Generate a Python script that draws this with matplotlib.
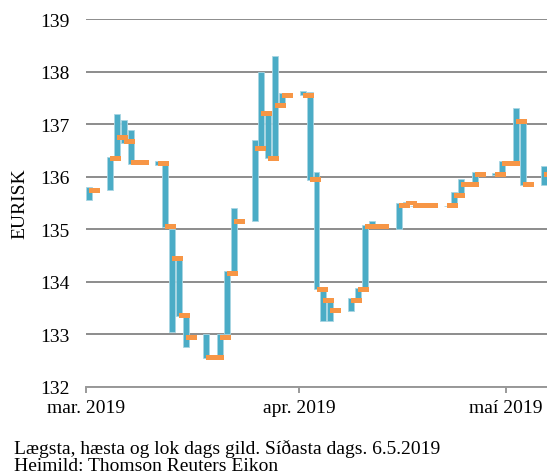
import matplotlib
matplotlib.use("Agg")
import matplotlib.pyplot as plt
import matplotlib.dates as mdates
import numpy as np
from datetime import datetime

dates = ["2019-03-01", "2019-03-04", "2019-03-05", "2019-03-06", "2019-03-07", "2019-03-08",
         "2019-03-11", "2019-03-12", "2019-03-13", "2019-03-14", "2019-03-15",
         "2019-03-18", "2019-03-19", "2019-03-20", "2019-03-21", "2019-03-22",
         "2019-03-25", "2019-03-26", "2019-03-27", "2019-03-28", "2019-03-29",
         "2019-04-01", "2019-04-02", "2019-04-03", "2019-04-04", "2019-04-05",
         "2019-04-08", "2019-04-09", "2019-04-10", "2019-04-11", "2019-04-12",
         "2019-04-15", "2019-04-16", "2019-04-17", "2019-04-18", "2019-04-19",
         "2019-04-22", "2019-04-23", "2019-04-24", "2019-04-25", "2019-04-26",
         "2019-04-29", "2019-04-30", "2019-05-01", "2019-05-02", "2019-05-03",
         "2019-05-06"]

low = [135.55, 135.75, 136.40, 136.65, 136.25, 136.27,
       136.22, 135.05, 133.05, 133.35, 132.76,
       132.56, 132.56, 132.56, 133.00, 134.15,
       135.15, 136.54, 136.35, 136.35, 137.35,
       137.55, 135.94, 133.86, 133.26, 133.26,
       133.45, 133.64, 133.86, 135.05, 135.05,
       135.00, 135.47, 135.45, 135.45, 135.45,
       135.45, 135.45, 135.64, 135.85, 135.85,
       136.03, 136.04, 136.25, 136.25, 135.85,
       135.85]

high = [135.80, 136.37, 137.20, 137.08, 136.89, 136.27,
        136.29, 136.23, 135.00, 134.49, 133.33,
        133.00, 132.56, 133.00, 134.20, 135.40,
        136.70, 138.00, 137.19, 138.29, 137.59,
        137.63, 137.62, 136.09, 133.83, 133.70,
        133.70, 133.89, 135.09, 135.15, 135.05,
        135.50, 135.52, 135.45, 135.45, 135.45,
        135.45, 135.70, 135.95, 135.85, 136.09,
        136.07, 136.29, 136.25, 137.30, 137.05,
        136.20]

close = [135.74, 136.35, 136.75, 136.67, 136.27, 136.27,
         136.26, 135.06, 134.45, 133.36, 132.95,
         132.56, 132.56, 132.95, 134.15, 135.15,
         136.54, 137.21, 136.35, 137.36, 137.55,
         137.55, 135.95, 133.86, 133.64, 133.45,
         133.64, 133.86, 135.05, 135.05, 135.05,
         135.45, 135.50, 135.45, 135.45, 135.45,
         135.45, 135.64, 135.85, 135.85, 136.04,
         136.04, 136.25, 136.25, 137.05, 135.85,
         136.04]

month_ticks = ["2019-03-01", "2019-04-01", "2019-05-01"]
month_labels = ["mar. 2019", "apr. 2019", "maí 2019"]
y_ticks = [132, 133, 134, 135, 136, 137, 138, 139]

SERIF = ["Liberation Serif", "DejaVu Serif"]
plt.rcParams["font.family"] = SERIF

teal = "#4BACC6"
orange = "#F79646"
grid_c = "#8C8C8C"
FS = 14

x = mdates.date2num([datetime.strptime(d, "%Y-%m-%d") for d in dates])
low_a = np.array(low)
high_a = np.array(high)
close_a = np.array(close)

fig = plt.figure(figsize=(5.47, 4.77), dpi=100)
ax = fig.add_axes([86 / 547, 1 - 388 / 477, 461 / 547, (388 - 20) / 477])

# high-low bars
ax.bar(x + 0.5, high_a - low_a, bottom=low_a, width=0.86, color=teal,
       edgecolor="#A8D6E3", linewidth=0.6, zorder=3)
# close ticks
tick_h = 0.095
ax.bar(x + 0.5, np.full_like(close_a, tick_h), bottom=close_a - tick_h / 2,
       width=1.6, align="edge", color=orange, linewidth=0, zorder=4)

xt = mdates.date2num([datetime.strptime(d, "%Y-%m-%d") for d in month_ticks])
x0 = mdates.date2num(datetime(2019, 3, 1))
ax.set_xlim(x0, x0 + 67)
ax.set_ylim(132, 139)
ax.set_xticks(xt)
ax.set_xticklabels(month_labels, fontsize=FS)
ax.set_yticks(y_ticks)
ax.set_yticklabels([str(v) for v in y_ticks], fontsize=FS)

ax.yaxis.grid(True, color=grid_c, linewidth=1.4, zorder=0)
ax.set_axisbelow(True)
for s in ["top", "right", "left"]:
    ax.spines[s].set_visible(False)
ax.spines["bottom"].set_color("#999999")
ax.spines["bottom"].set_linewidth(1.4)
ax.tick_params(axis="y", length=0, pad=12)
ax.tick_params(axis="x", length=4, width=1.4, color="#999999", pad=5, direction="out")

fig.text(20 / 547, 1 - 204 / 477, "EURISK", fontsize=FS, rotation=90,
         ha="center", va="center")

fig.text(14 / 547, 1 - 449 / 477, "Lægsta, hæsta og lok dags gild. Síðasta dags. 6.5.2019",
         fontsize=FS, va="center", ha="left")
fig.text(14 / 547, 1 - 467 / 477, "Heimild: Thomson Reuters Eikon",
         fontsize=FS, va="center", ha="left")

fig.savefig("out.png", dpi=100)
